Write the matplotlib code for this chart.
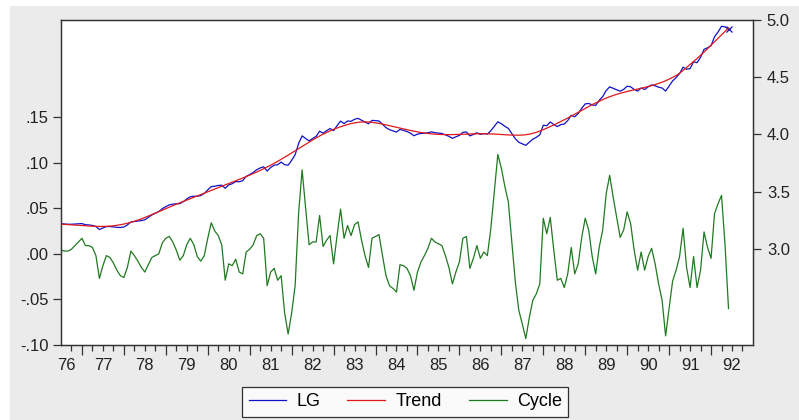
import matplotlib

matplotlib.use("Agg")
import matplotlib.pyplot as plt
import matplotlib.transforms as mtransforms
import numpy as np

plt.rcParams["font.family"] = ["Liberation Sans", "DejaVu Sans"]

# ---- data: monthly, 1976m7 .. 1992m6 --------------------------------------
START_YEAR = 1976.5
CYCLE = [
    0.004, 0.003, 0.003, 0.005, 0.009, 0.013, 0.017, 0.009, 0.009, 0.007,
    -0.002, -0.027, -0.013, -0.002, -0.004, -0.010, -0.018, -0.024, -0.026, -0.015,
    0.003, -0.002, -0.008, -0.015, -0.020, -0.012, -0.004, -0.002, 0.000, 0.012,
    0.017, 0.019, 0.013, 0.004, -0.007, -0.002, 0.010, 0.017, 0.010, -0.003,
    -0.008, -0.002, 0.017, 0.034, 0.025, 0.020, 0.010, -0.029, -0.011, -0.013,
    -0.006, -0.020, -0.022, 0.002, 0.005, 0.010, 0.020, 0.022, 0.017, -0.035,
    -0.020, -0.016, -0.029, -0.024, -0.065, -0.088, -0.065, -0.035, 0.045, 0.092,
    0.050, 0.010, 0.013, 0.013, 0.042, 0.008, 0.015, 0.020, -0.011, 0.020,
    0.049, 0.017, 0.031, 0.020, 0.032, 0.035, 0.015, -0.002, -0.015, 0.017,
    0.019, 0.021, -0.002, -0.024, -0.035, -0.038, -0.042, -0.012, -0.013, -0.016,
    -0.024, -0.040, -0.020, -0.009, -0.002, 0.006, 0.017, 0.013, 0.011, 0.009,
    -0.002, -0.015, -0.033, -0.020, -0.009, 0.017, 0.019, -0.016, -0.005, 0.009,
    -0.005, 0.002, -0.002, 0.028, 0.068, 0.109, 0.094, 0.074, 0.057, 0.013,
    -0.031, -0.062, -0.077, -0.093, -0.070, -0.051, -0.044, -0.033, 0.039, 0.022,
    0.040, 0.004, -0.029, -0.027, -0.037, -0.022, 0.007, -0.022, -0.011, 0.018,
    0.039, 0.026, -0.003, -0.022, 0.007, 0.026, 0.066, 0.086, 0.062, 0.040,
    0.018, 0.026, 0.046, 0.033, 0.004, -0.018, 0.002, -0.018, -0.003, 0.006,
    -0.011, -0.033, -0.051, -0.090, -0.060, -0.030, -0.018, -0.003, 0.028, -0.015,
    -0.037, -0.003, -0.037, -0.018, 0.024, 0.007, -0.005, 0.044, 0.055, 0.064,
    0.010, -0.060,
]
TREND = [
    3.217, 3.215, 3.213, 3.211, 3.209, 3.207, 3.205, 3.203, 3.201, 3.199,
    3.198, 3.197, 3.197, 3.198, 3.200, 3.203, 3.207, 3.212, 3.218, 3.225,
    3.233, 3.242, 3.252, 3.263, 3.275, 3.288, 3.301, 3.314, 3.327, 3.340,
    3.353, 3.366, 3.379, 3.391, 3.403, 3.415, 3.427, 3.439, 3.451, 3.463,
    3.475, 3.487, 3.499, 3.511, 3.523, 3.535, 3.547, 3.559, 3.571, 3.583,
    3.595, 3.607, 3.619, 3.632, 3.645, 3.658, 3.672, 3.686, 3.701, 3.716,
    3.732, 3.748, 3.765, 3.783, 3.801, 3.820, 3.839, 3.858, 3.877, 3.896,
    3.915, 3.934, 3.952, 3.970, 3.987, 4.003, 4.018, 4.032, 4.045, 4.057,
    4.068, 4.078, 4.087, 4.095, 4.101, 4.106, 4.109, 4.110, 4.109, 4.106,
    4.102, 4.097, 4.091, 4.084, 4.077, 4.070, 4.063, 4.056, 4.049, 4.042,
    4.035, 4.029, 4.023, 4.018, 4.013, 4.009, 4.006, 4.003, 4.001, 4.000,
    3.999, 3.999, 3.999, 4.000, 4.001, 4.002, 4.003, 4.004, 4.005, 4.006,
    4.006, 4.006, 4.006, 4.005, 4.004, 4.002, 4.000, 3.998, 3.996, 3.995,
    3.994, 3.994, 3.995, 3.998, 4.003, 4.010, 4.019, 4.030, 4.042, 4.055,
    4.069, 4.083, 4.098, 4.113, 4.128, 4.144, 4.160, 4.177, 4.194, 4.211,
    4.228, 4.245, 4.261, 4.276, 4.291, 4.305, 4.318, 4.330, 4.341, 4.351,
    4.360, 4.368, 4.376, 4.383, 4.390, 4.397, 4.404, 4.411, 4.419, 4.427,
    4.436, 4.446, 4.457, 4.469, 4.483, 4.498, 4.515, 4.535, 4.560, 4.585,
    4.612, 4.638, 4.664, 4.692, 4.720, 4.750, 4.780, 4.810, 4.840, 4.870,
    4.900, 4.930,
]
LG = [
    3.221, 3.218, 3.216, 3.216, 3.218, 3.220, 3.222, 3.212, 3.210, 3.206,
    3.196, 3.170, 3.184, 3.196, 3.196, 3.193, 3.189, 3.188, 3.192, 3.210,
    3.236, 3.240, 3.244, 3.248, 3.255, 3.276, 3.297, 3.312, 3.327, 3.352,
    3.370, 3.385, 3.392, 3.395, 3.396, 3.413, 3.437, 3.456, 3.461, 3.460,
    3.467, 3.485, 3.516, 3.545, 3.548, 3.555, 3.557, 3.530, 3.560, 3.570,
    3.589, 3.587, 3.597, 3.634, 3.650, 3.668, 3.692, 3.708, 3.718, 3.681,
    3.712, 3.732, 3.736, 3.759, 3.736, 3.732, 3.774, 3.823, 3.922, 3.988,
    3.965, 3.944, 3.965, 3.983, 4.029, 4.011, 4.033, 4.052, 4.034, 4.077,
    4.117, 4.095, 4.118, 4.115, 4.133, 4.141, 4.124, 4.108, 4.094, 4.123,
    4.121, 4.118, 4.089, 4.060, 4.042, 4.032, 4.021, 4.044, 4.036, 4.026,
    4.011, 3.989, 4.003, 4.009, 4.011, 4.015, 4.023, 4.016, 4.012, 4.009,
    3.997, 3.984, 3.966, 3.980, 3.992, 4.019, 4.022, 3.988, 4.000, 4.015,
    4.001, 4.008, 4.004, 4.033, 4.072, 4.111, 4.094, 4.072, 4.053, 4.008,
    3.963, 3.932, 3.918, 3.905, 3.933, 3.959, 3.975, 3.997, 4.081, 4.077,
    4.109, 4.087, 4.069, 4.086, 4.091, 4.122, 4.167, 4.155, 4.183, 4.229,
    4.267, 4.271, 4.258, 4.254, 4.298, 4.331, 4.384, 4.416, 4.403, 4.391,
    4.378, 4.394, 4.422, 4.416, 4.394, 4.379, 4.406, 4.393, 4.416, 4.433,
    4.425, 4.413, 4.406, 4.379, 4.423, 4.468, 4.497, 4.532, 4.588, 4.570,
    4.575, 4.635, 4.627, 4.674, 4.744, 4.757, 4.775, 4.854, 4.895, 4.945,
    4.940, 4.918,
]
YEAR_LABELS = ["76", "77", "78", "79", "80", "81", "82", "83", "84",
               "85", "86", "87", "88", "89", "90", "91", "92"]
LEFT_TICKS = [-0.10, -0.05, 0.00, 0.05, 0.10, 0.15]
LEFT_TICK_LABELS = ["-.10", "-.05", ".00", ".05", ".10", ".15"]
RIGHT_TICKS = [3.0, 3.5, 4.0, 4.5, 5.0]

BLUE, RED, GREEN = "#1010c8", "#e01818", "#1f7a1f"
FRAME = "#333333"
TXT = "#222222"
FS = 12

fig = plt.figure(figsize=(7.99, 4.20), dpi=100, facecolor="#ebebeb")
# white margin strips like the screenshot
fig.patches.append(plt.Rectangle((0, 0), 0.0125, 1, transform=fig.transFigure,
                                 fc="white", ec="none", zorder=0))
fig.patches.append(plt.Rectangle((0, 0.986), 1, 0.014, transform=fig.transFigure,
                                 fc="white", ec="none", zorder=0))

ax = fig.add_axes([0.0763, 0.1786, 0.8661, 0.7738])
ax.set_facecolor("white")
x = START_YEAR + np.arange(len(CYCLE)) / 12.0

ax.plot(x, CYCLE, color=GREEN, lw=0.9, label="Cycle", zorder=2)
ax.set_xlim(1976.5, 1993.0)
ax.set_ylim(-0.10, 0.2564)
ax.set_yticks(LEFT_TICKS)
ax.set_yticklabels(LEFT_TICK_LABELS)

ax2 = ax.twinx()
ax2.plot(x, LG, color=BLUE, lw=0.9, label="LG", marker="x", markevery=[len(LG) - 1],
         ms=4.5, mew=0.9, zorder=3)
ax2.plot(x, TREND, color=RED, lw=0.9, label="Trend", zorder=4)
ax2.set_ylim(2.1616, 5.0)
ax2.set_yticks(RIGHT_TICKS)
ax2.set_yticklabels([f"{v:.1f}" for v in RIGHT_TICKS])

# x axis: year boundaries as major ticks, quarters as minor, labels centred in year
ax.set_xticks(np.arange(1977, 1993))
ax.set_xticks(np.arange(1976.75, 1993.0, 0.25), minor=True)
ax.set_xticklabels([])
ax.tick_params(axis="x", which="major", direction="out", length=7, width=0.9, color=FRAME)
ax.tick_params(axis="x", which="minor", direction="out", length=4, width=0.9, color=FRAME)
ax.tick_params(axis="y", direction="out", length=6, width=0.9, color=FRAME,
               labelsize=FS, pad=3, labelcolor=TXT)
ax2.tick_params(axis="y", direction="out", length=6, width=0.9, color=FRAME,
                labelsize=FS, pad=4, labelcolor=TXT)

trans = mtransforms.blended_transform_factory(ax.transData, ax.transAxes)
for k, lab in enumerate(YEAR_LABELS):
    xpos = 1976.64 if k == 0 else 1976 + k + 0.5
    ax.text(xpos, -0.062, lab, transform=trans, ha="center", va="center",
            fontsize=FS, color=TXT)

for a in (ax, ax2):
    for s in a.spines.values():
        s.set_color(FRAME)
        s.set_linewidth(0.9)

handles = [ax2.lines[0], ax2.lines[1], ax.lines[0]]
leg = fig.legend(handles, ["LG", "Trend", "Cycle"], loc="center",
                 bbox_to_anchor=(0.507, 0.043), ncol=3, frameon=True, fancybox=False,
                 edgecolor="black", facecolor="white", fontsize=13,
                 handlelength=2.1, columnspacing=1.5, handletextpad=0.55,
                 borderpad=0.35, borderaxespad=0)
leg.get_frame().set_linewidth(0.9)
for h in leg.legend_handles:
    h.set_marker("")

fig.savefig("out.png", dpi=100, facecolor=fig.get_facecolor())
